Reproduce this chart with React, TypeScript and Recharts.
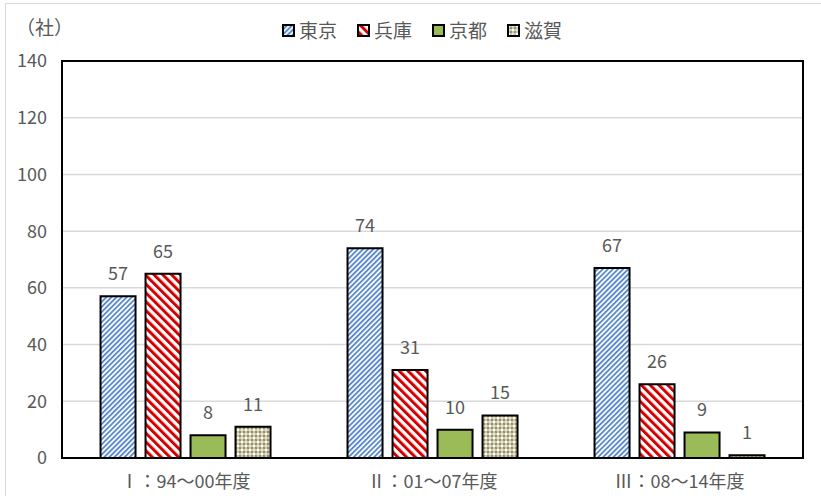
import { BarChart, Bar, XAxis, YAxis, CartesianGrid, LabelList, ReferenceArea } from "recharts"

const periods = ["Ⅰ：94～00年度", "Ⅱ：01～07年度", "Ⅲ：08～14年度"]
const tokyo = [57, 74, 67]
const hyogo = [65, 31, 26]
const kyoto = [8, 10, 9]
const shiga = [11, 15, 1]
const yTicks = [0, 20, 40, 60, 80, 100, 120, 140]

const FONT = "'Noto Sans CJK JP', 'Noto Sans', sans-serif"
const TEXT = "#595959"

const data = periods.map((p, i) => ({
  period: p,
  東京: tokyo[i],
  兵庫: hyogo[i],
  京都: kyoto[i],
  滋賀: shiga[i],
}))

const series = [
  { key: "東京", fill: "url(#pat-tokyo)" },
  { key: "兵庫", fill: "url(#pat-hyogo)" },
  { key: "京都", fill: "#9bbb59" },
  { key: "滋賀", fill: "url(#pat-shiga)" },
]

function Patterns() {
  return (
    <svg width={0} height={0} style={{ position: "absolute" }}>
      <defs>
        <pattern id="pat-tokyo" width={3.6} height={3.6} patternUnits="userSpaceOnUse" patternTransform="rotate(45)">
          <rect width={3.6} height={3.6} fill="#ffffff" />
          <rect width={1.9} height={3.6} fill="#5b8bcc" />
        </pattern>
        <pattern id="pat-hyogo" width={6.2} height={6.2} patternUnits="userSpaceOnUse" patternTransform="rotate(-45)">
          <rect width={6.2} height={6.2} fill="#ffffff" />
          <rect width={3} height={6.2} fill="#d40000" />
        </pattern>
        <pattern id="pat-shiga" width={8} height={8} patternUnits="userSpaceOnUse">
          <rect width={8} height={8} fill="#9a9160" />
          <rect x={1} y={0} width={2} height={8} fill="#ffffff" opacity={0.5} />
          <rect x={5} y={0} width={2} height={8} fill="#ffffff" opacity={0.5} />
          <rect x={0} y={1} width={8} height={2} fill="#ffffff" opacity={0.5} />
          <rect x={0} y={5} width={8} height={2} fill="#ffffff" opacity={0.5} />
          <rect x={1} y={1} width={2} height={2} fill="#ffffff" />
          <rect x={5} y={5} width={2} height={2} fill="#ffffff" />
        </pattern>
      </defs>
    </svg>
  )
}

// legend sits above the plot, outside the chart's layout
function TopLegend() {
  return (
    <div
      style={{
        position: "absolute",
        left: 282,
        top: 17,
        display: "flex",
        gap: 20,
        fontFamily: FONT,
        fontSize: 19,
        lineHeight: "26px",
        color: TEXT,
      }}
    >
      {series.map((s) => (
        <div key={s.key} style={{ display: "flex", alignItems: "center", gap: 4 }}>
          <svg width={13} height={13}>
            <rect x={1} y={1} width={11} height={11} fill={s.fill} stroke="#000" strokeWidth={2} />
          </svg>
          <span>{s.key}</span>
        </div>
      ))}
    </div>
  )
}

export default function App() {
  return (
    <div style={{ position: "absolute", left: 0, top: 0, width: 821, height: 496, background: "#fff", overflow: "hidden" }}>
      <Patterns />
      <div style={{ position: "absolute", left: 5, top: 3, right: -10, bottom: -10, borderLeft: "1px solid #d9d9d9", borderTop: "1px solid #d9d9d9" }} />
      <div style={{ position: "absolute", left: 16, top: 13, fontFamily: FONT, fontSize: 19, color: TEXT }}>（社）</div>
      <TopLegend />
      <BarChart
        width={821}
        height={496}
        data={data}
        margin={{ top: 61, right: 18, left: 12, bottom: 8 }}
        barCategoryGap="15.6%"
        barGap={10}
        style={{ position: "absolute", left: 0, top: 0 }}
      >
        <CartesianGrid vertical={false} stroke="#d9d9d9" strokeWidth={1.5} />
        <XAxis
          dataKey="period"
          height={30}
          axisLine={false}
          tickLine={false}
          tick={{ fontFamily: FONT, fontSize: 18, fill: TEXT, dy: 9 }}
        />
        <YAxis
          width={50}
          domain={[0, 140]}
          ticks={yTicks}
          axisLine={false}
          tickLine={false}
          tick={{ fontFamily: FONT, fontSize: 18, fill: TEXT, dx: -7 }}
        />
        <ReferenceArea y1={0} y2={140} fill="none" stroke="#000" strokeWidth={2} ifOverflow="visible" />
        {series.map((s) => (
          <Bar key={s.key} dataKey={s.key} fill={s.fill} stroke="#000" strokeWidth={2} isAnimationActive={false}>
            <LabelList dataKey={s.key} position="top" offset={16} style={{ fontFamily: FONT, fontSize: 18, fill: TEXT }} />
          </Bar>
        ))}
      </BarChart>
    </div>
  )
}
